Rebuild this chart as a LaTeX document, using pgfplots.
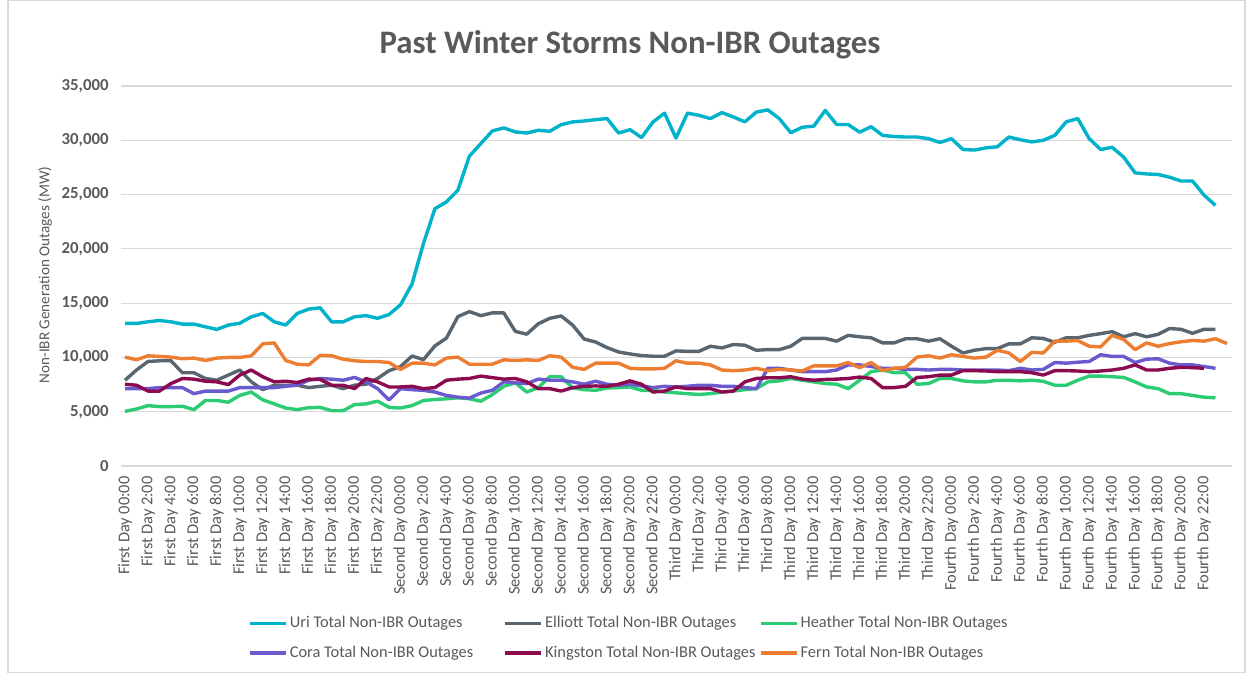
\documentclass[border=0pt]{standalone}
\usepackage{pgfplots}
\pgfplotsset{compat=1.18}
\usepackage{pgfplotstable}
\usepackage{fontspec}
\setmainfont{Carlito}
\definecolor{uri}{RGB}{0,178,202}
\definecolor{ell}{RGB}{89,102,112}
\definecolor{hea}{RGB}{44,204,116}
\definecolor{cor}{RGB}{106,90,205}
\definecolor{kin}{RGB}{140,10,80}
\definecolor{fer}{RGB}{237,125,49}
\definecolor{gridgray}{RGB}{217,217,217}
\definecolor{labelgray}{RGB}{89,89,89}
\pgfplotstableread{
i uri ell hea cor kin fer
0 13130 7900 5030 7125 7530 10030
1 13130 8840 5250 7125 7440 9780
2 13280 9625 5560 7125 6900 10150
3 13400 9690 5470 7220 6900 10090
4 13280 9690 5470 7220 7590 10030
5 13070 8590 5500 7220 8060 9875
6 13070 8590 5190 6660 8000 9940
7 12820 8060 6030 6900 7810 9720
8 12580 7900 6030 6900 7750 9940
9 12980 8375 5875 6900 7500 10000
10 13150 8840 6500 7220 8375 10000
11 13740 7750 6810 7220 8840 10150
12 14050 7030 6090 7220 8220 11250
13 13280 7440 5720 7220 7750 11340
14 12980 7440 5340 7340 7810 9720
15 14050 7440 5190 7440 7690 9375
16 14450 7220 5370 7900 8000 9310
17 14570 7340 5400 8060 7970 10190
18 13280 7440 5090 8000 7440 10150
19 13280 7125 5090 7900 7440 9840
20 13740 7440 5660 8160 7125 9690
21 13850 7530 5720 7750 8060 9625
22 13600 8060 5970 7125 7750 9625
23 13950 8780 5400 6090 7280 9530
24 14850 9150 5340 7125 7280 8900
25 16750 10130 5560 7030 7340 9470
26 20500 9800 6030 6970 7125 9470
27 23700 11060 6125 6810 7220 9310
28 24320 11780 6190 6500 7900 9940
29 25400 13760 6280 6340 8000 10030
30 28530 14220 6190 6250 8060 9375
31 29700 13850 5970 6720 8280 9375
32 30860 14100 6580 6970 8140 9375
33 31140 14100 7340 7750 8000 9780
34 30770 12400 7660 7660 8060 9720
35 30670 12140 6810 7590 7750 9780
36 30920 13100 7220 8000 7125 9720
37 30830 13600 8220 7900 7125 10150
38 31440 13820 8220 7900 6900 10030
39 31690 12970 7190 7750 7220 9090
40 31780 11690 7030 7530 7340 8900
41 31900 11420 6970 7810 7375 9470
42 32000 10900 7190 7530 7340 9470
43 30670 10500 7220 7440 7530 9470
44 30980 10320 7280 7530 7840 9000
45 30250 10170 6970 7375 7530 8940
46 31690 10110 6970 7220 6810 8940
47 32500 10110 6810 7340 6900 9000
48 30200 10600 6740 7280 7280 9690
49 32500 10560 6660 7340 7125 9470
50 32300 10560 6590 7440 7125 9470
51 32000 11030 6660 7440 7125 9310
52 32550 10875 6810 7340 6810 8840
53 32150 11190 6900 7340 6900 8780
54 31700 11125 7030 7220 7750 8840
55 32600 10660 7125 7125 8060 9000
56 32800 10720 7750 9000 8125 8780
57 32000 10720 7840 9000 8125 8900
58 30700 11030 8060 8840 8220 8840
59 31200 11750 7900 8690 8000 8750
60 31300 11750 7750 8690 7900 9220
61 32750 11750 7590 8690 7970 9220
62 31450 11500 7530 8840 8000 9220
63 31450 12030 7125 9310 8060 9530
64 30750 11900 7900 9310 8190 9060
65 31250 11810 8690 9160 8060 9530
66 30450 11340 8840 9000 7220 8780
67 30350 11340 8590 9000 7220 9000
68 30300 11720 8590 8900 7340 9090
69 30300 11720 7530 8900 8160 10030
70 30150 11500 7590 8840 8220 10150
71 29800 11720 8060 8900 8375 9940
72 30150 11030 8060 8900 8375 10250
73 29150 10410 7840 8840 8780 10090
74 29100 10660 7750 8840 8780 9940
75 29300 10810 7750 8840 8750 10030
76 29400 10810 7900 8840 8690 10660
77 30300 11250 7900 8780 8690 10410
78 30050 11250 7840 9000 8690 9625
79 29850 11810 7900 8840 8590 10470
80 30000 11750 7800 8900 8375 10410
81 30450 11400 7440 9530 8780 11500
82 31700 11810 7440 9470 8780 11500
83 32000 11810 7900 9560 8750 11560
84 30150 12030 8280 9625 8690 11030
85 29150 12190 8280 10250 8750 10970
86 29350 12375 8220 10090 8840 12030
87 28450 11900 8160 10090 9000 11660
88 27000 12190 7750 9530 9310 10720
89 26900 11900 7280 9840 8840 11340
90 26850 12125 7125 9875 8840 11030
91 26600 12660 6660 9470 9000 11280
92 26250 12590 6660 9310 9090 11440
93 26250 12220 6500 9310 9060 11560
94 24950 12590 6340 9160 9000 11500
95 24000 12590 6280 9000 nan 11720
96 nan nan nan nan nan 11280
}\data
\begin{document}
\begin{tikzpicture}
\path[use as bounding box] (-60.5pt,-103.5pt) rectangle (564pt,233pt);
\draw[gridgray, line width=0.6pt] (-56.5pt,-103.2pt) rectangle (562pt,232.7pt);
\begin{axis}[
  at={(0pt,0pt)}, anchor=south west,
  scale only axis, width=555.5pt, height=190pt,
  xmin=-0.35, xmax=96.44, ymin=0, ymax=35000,
  ytick={0,5000,...,35000},
  ymajorgrids, grid style={color=gridgray, line width=0.6pt},
  axis line style={draw=none},
  major tick length=0pt,
  xtick={0,2,...,94},
  xticklabels={First Day 00:00,First Day 2:00,First Day 4:00,First Day 6:00,First Day 8:00,First Day 10:00,First Day 12:00,First Day 14:00,First Day 16:00,First Day 18:00,First Day 20:00,First Day 22:00,
  Second Day 00:00,Second Day 2:00,Second Day 4:00,Second Day 6:00,Second Day 8:00,Second Day 10:00,Second Day 12:00,Second Day 14:00,Second Day 16:00,Second Day 18:00,Second Day 20:00,Second Day 22:00,
  Third Day 00:00,Third Day 2:00,Third Day 4:00,Third Day 6:00,Third Day 8:00,Third Day 10:00,Third Day 12:00,Third Day 14:00,Third Day 16:00,Third Day 18:00,Third Day 20:00,Third Day 22:00,
  Fourth Day 00:00,Fourth Day 2:00,Fourth Day 4:00,Fourth Day 6:00,Fourth Day 8:00,Fourth Day 10:00,Fourth Day 12:00,Fourth Day 14:00,Fourth Day 16:00,Fourth Day 18:00,Fourth Day 20:00,Fourth Day 22:00},
  x tick label style={rotate=90, anchor=east, font=\fontsize{8.2}{9}\selectfont, text=labelgray, inner xsep=5pt},
  y tick label style={font=\fontsize{8.4}{9}\selectfont\bfseries, text=labelgray, inner xsep=6pt},
  /pgf/number format/assume math mode=true,
  /pgf/number format/1000 sep={,},
  scaled y ticks=false,
  legend columns=3,
  legend cell align=left,
  legend style={at={(0.1143,-0.387)}, anchor=north west, draw=none, fill=none, inner sep=0pt,
    font=\fontsize{8.2}{9}\selectfont, text=labelgray,
    nodes={inner xsep=1pt, inner ysep=1.5pt},
    /tikz/every even column/.append style={column sep=0pt},
    row sep=4.5pt},
  legend image code/.code={\draw[#1, line width=1.7pt] (0pt,0pt) -- (18pt,0pt);},
  every axis plot/.append style={line width=1.7pt, line join=round},
]
\addplot[uri] table[x=i, y=uri] {\data};
\addlegendentry{\makebox[106pt][l]{Uri Total Non-IBR Outages}}
\addplot[ell] table[x=i, y=ell] {\data};
\addlegendentry{\makebox[106pt][l]{Elliott Total Non-IBR Outages}}
\addplot[hea] table[x=i, y=hea] {\data};
\addlegendentry{\makebox[106pt][l]{Heather Total Non-IBR Outages}}
\addplot[cor] table[x=i, y=cor] {\data};
\addlegendentry{\makebox[106pt][l]{Cora Total Non-IBR Outages}}
\addplot[kin] table[x=i, y=kin] {\data};
\addlegendentry{\makebox[106pt][l]{Kingston Total Non-IBR Outages}}
\addplot[fer] table[x=i, y=fer] {\data};
\addlegendentry{\makebox[106pt][l]{Fern Total Non-IBR Outages}}
\end{axis}
\node[rotate=90, font=\fontsize{7.6}{9}\selectfont, text=labelgray] at (-38pt,95.5pt) {Non-IBR Generation Outages (MW)};
\node[font=\fontsize{16.4}{18}\selectfont\bfseries, text=labelgray] at (254.5pt,210.5pt) {Past Winter Storms Non-IBR Outages};
\end{tikzpicture}
\end{document}
